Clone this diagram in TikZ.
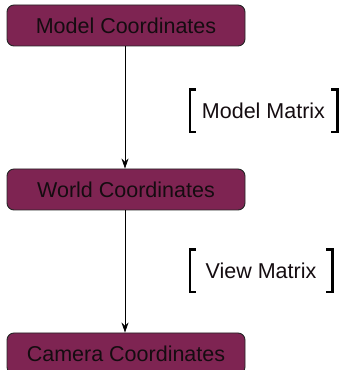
\documentclass[tikz,border=0pt]{standalone}
\usepackage{fontspec}
\setmainfont{Liberation Sans}
\usetikzlibrary{arrows.meta}
\definecolor{boxfill}{RGB}{126,36,82}
\definecolor{txt}{RGB}{20,12,16}
\tikzset{
  coordbox/.style={draw=black!85, line width=0.9pt, fill=boxfill, rounded corners=7pt,
    minimum width=238pt, minimum height=41pt, inner sep=0pt, text=txt,
    font=\fontsize{21.5}{24}\selectfont},
  matlabel/.style={minimum height=42pt, inner sep=0pt, text=txt,
    font=\fontsize{21.5}{24}\selectfont},
  bracket/.style={line width=2.6pt, black},
  flow/.style={-{Stealth[length=10pt,width=7pt]}, line width=0.8pt, black}
}
\begin{document}
\begin{tikzpicture}[x=1pt,y=1pt]
\useasboundingbox (0,0) rectangle (342,370);
\node[coordbox] (model) at (126,344.5) {Model Coordinates};
\node[coordbox] (world) at (126,180.5) {World Coordinates};
\node[coordbox] (camera) at (126,16.5) {Camera Coordinates};
\draw[flow] (model.south -| 125,0) -- (world.north -| 125,0);
\draw[flow] (world.south -| 125,0) -- (camera.north -| 125,0);
\node[matlabel, minimum width=147pt] (mm) at (263.5,259) {Model Matrix};
\node[matlabel, minimum width=142pt] (vm) at (261,99) {View Matrix};
\foreach \n in {mm,vm}{
  \draw[bracket] ([xshift=6pt]\n.north west) -- (\n.north west) -- (\n.south west) -- ++(6pt,0);
  \draw[bracket] ([xshift=-6pt]\n.north east) -- (\n.north east) -- (\n.south east) -- ++(-6pt,0);
}
\end{tikzpicture}
\end{document}
